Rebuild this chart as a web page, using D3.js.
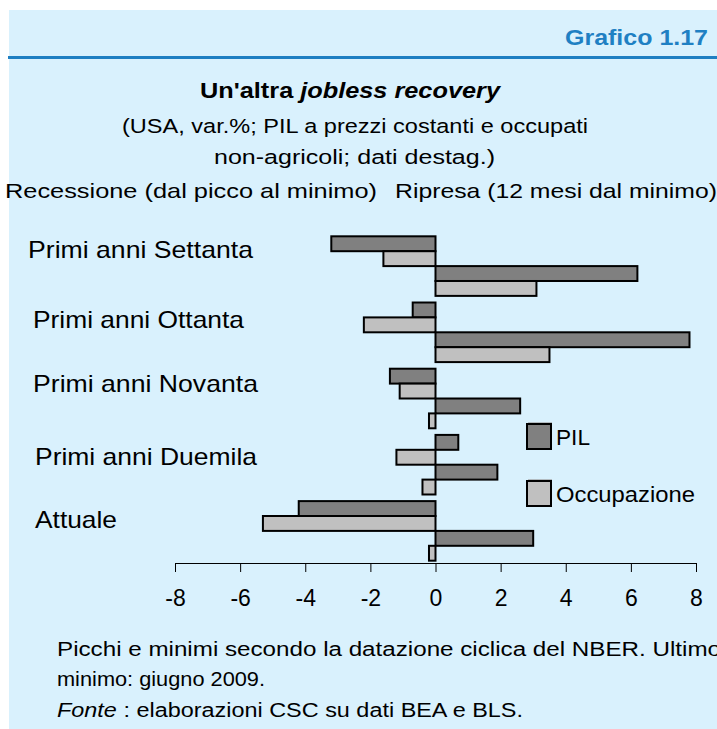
<!DOCTYPE html>
<html>
<head>
<meta charset="utf-8">
<script src="https://cdn.jsdelivr.net/npm/d3@7"></script>
<style>
  body { margin: 0; background: #fff; }
  svg { display: block; font-family: "Liberation Sans", Arial, sans-serif; }
</style>
</head>
<body>
<div id="chart"></div>
<script>
// categories and series (var.% values)
var categories = ["Primi anni Settanta", "Primi anni Ottanta", "Primi anni Novanta", "Primi anni Duemila", "Attuale"];
var pilRecessione = [-3.2, -0.7, -1.4, 0.7, -4.2];
var occRecessione = [-1.6, -2.2, -1.1, -1.2, -5.3];
var pilRipresa = [6.2, 7.8, 2.6, 1.9, 3.0];
var occRipresa = [3.1, 3.5, -0.2, -0.4, -0.2];
var xTicks = [-8, -6, -4, -2, 0, 2, 4, 6, 8];

var W = 717, H = 729;
var dark = "#808080", light = "#c0c0c0";

var svg = d3.select("#chart").append("svg")
    .attr("width", W)
    .attr("height", H);

// panel
svg.append("rect")
    .attr("x", 9).attr("y", 10)
    .attr("width", W - 9).attr("height", H - 10)
    .attr("fill", "#d9f1fd");
svg.append("line")
    .attr("x1", 8).attr("x2", W)
    .attr("y1", 57.5).attr("y2", 57.5)
    .attr("stroke", "#1e7fc2").attr("stroke-width", 3);

// helper for text with fixed width
function label(txt, x, y, size, len, opts) {
    opts = opts || {};
    var t = svg.append("text")
        .attr("x", x).attr("y", y)
        .attr("font-size", size)
        .attr("fill", opts.fill || "#000")
        .attr("font-weight", opts.weight || "normal")
        .attr("text-anchor", opts.anchor || "start")
        .text(txt);
    if (len) t.attr("textLength", len).attr("lengthAdjust", "spacingAndGlyphs");
    return t;
}

label("Grafico 1.17", 708, 45, 22, 143, {fill: "#1f80c3", weight: "bold", anchor: "end"});

// title with italic part
var title = svg.append("text")
    .attr("x", 200).attr("y", 98)
    .attr("font-size", 22).attr("font-weight", "bold")
    .attr("textLength", 300).attr("lengthAdjust", "spacingAndGlyphs");
title.append("tspan").text("Un'altra ");
title.append("tspan").attr("font-style", "italic").text("jobless recovery");

label("(USA, var.%; PIL a prezzi costanti e occupati", 122, 133, 20.5, 466);
label("non-agricoli;  dati destag.)", 214, 164, 20.5, 281);
label("Recessione (dal picco al minimo)", 5, 198, 21, 372);
label("Ripresa (12 mesi dal minimo)", 395, 198, 21, 322);

// scales
var x = d3.scaleLinear().domain([-8, 8]).range([175, 696]);
var y = d3.scaleBand().domain(categories).range([233, 564])
    .paddingInner(0.1).paddingOuter(0.05);
var series = [
    {key: "pilRec", values: pilRecessione, fill: dark},
    {key: "occRec", values: occRecessione, fill: light},
    {key: "pilRip", values: pilRipresa, fill: dark},
    {key: "occRip", values: occRipresa, fill: light}
];
var ySub = d3.scaleBand().domain(series.map(function (s) { return s.key; }))
    .range([0, y.bandwidth()]);

// bars
var groups = svg.selectAll("g.cat")
    .data(categories)
    .enter().append("g")
    .attr("class", "cat")
    .attr("transform", function (d) { return "translate(0," + y(d) + ")"; });

groups.each(function (cat, i) {
    d3.select(this).selectAll("rect")
        .data(series)
        .enter().append("rect")
        .attr("x", function (s) { return x(Math.min(0, s.values[i])); })
        .attr("y", function (s) { return ySub(s.key); })
        .attr("width", function (s) { return Math.abs(x(s.values[i]) - x(0)); })
        .attr("height", ySub.bandwidth())
        .attr("fill", function (s) { return s.fill; })
        .attr("stroke", "#000")
        .attr("stroke-width", 2);
});

// category labels (to the left)
var labelX = [28, 33, 33, 35, 35];
var labelDy = [22, 25, 23, 30, 27];
var labelLen = [225, 211, 225, 222, 82];
categories.forEach(function (c, i) {
    label(c, labelX[i], y(c) + labelDy[i], 24, labelLen[i]);
});

// axis
var axis = svg.append("g")
    .attr("transform", "translate(0,563)")
    .call(d3.axisBottom(x).tickValues(xTicks).tickSize(9).tickSizeOuter(0).tickPadding(18)
        .tickFormat(function (d) { return d; }));
axis.select(".domain").attr("stroke", "#000").attr("stroke-width", 1);
axis.selectAll(".tick line").attr("stroke", "#000").attr("stroke-width", 1);
axis.selectAll(".tick text")
    .attr("font-size", 23)
    .attr("fill", "#000")
    .attr("font-family", "Liberation Sans, Arial, sans-serif");

// legend
var legend = [
    {name: "PIL", fill: dark, y: 424, len: 34},
    {name: "Occupazione", fill: light, y: 481, len: 139}
];
legend.forEach(function (l) {
    svg.append("rect")
        .attr("x", 528).attr("y", l.y - 2)
        .attr("width", 24).attr("height", 25)
        .attr("fill", "#9a9a9a").attr("opacity", 0.6);
    svg.append("rect")
        .attr("x", 527).attr("y", l.y)
        .attr("width", 24).attr("height", 25)
        .attr("fill", l.fill)
        .attr("stroke", "#000").attr("stroke-width", 2);
    label(l.name, 556, l.y + 21, 22, l.len);
});

// notes
label("Picchi e minimi secondo la datazione ciclica del NBER. Ultimo", 57, 656, 20, 664);
label("minimo: giugno 2009.", 57, 686, 20, 208);
var src = svg.append("text")
    .attr("x", 57).attr("y", 717)
    .attr("font-size", 20)
    .attr("textLength", 466).attr("lengthAdjust", "spacingAndGlyphs");
src.append("tspan").attr("font-style", "italic").text("Fonte");
src.append("tspan").text(" : elaborazioni CSC su dati BEA e BLS.");
</script>
</body>
</html>
